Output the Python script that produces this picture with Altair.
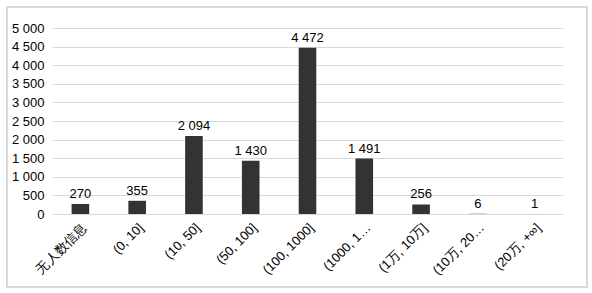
import altair as alt
import pandas as pd

categories = ["无人数信息", "(0, 10]", "(10, 50]", "(50, 100]", "(100, 1000]",
              "(1000, 1…", "(1万, 10万]", "(10万, 20…", "(20万, +∞]"]
values = [270, 355, 2094, 1430, 4472, 1491, 256, 6, 1]

df = pd.DataFrame({"cat": categories, "val": values})
df["lbl"] = [f"{v:,}".replace(",", " ") for v in values]

FONT = "Liberation Sans"
W, H = 511, 186

x = alt.X("cat:N", sort=categories, title=None,
          scale=alt.Scale(paddingInner=0.69, paddingOuter=0.345),
          axis=alt.Axis(labelAngle=-45, labelFontSize=13, labelColor="#000000",
                        labelFont=FONT, ticks=False, domain=False, grid=False,
                        labelPadding=7, labelLimit=120))
y = alt.Y("val:Q", title=None,
          scale=alt.Scale(domain=[0, 5000], nice=False),
          axis=alt.Axis(values=list(range(0, 5001, 500)), labelFontSize=13,
                        labelColor="#000000", labelFont=FONT, ticks=False,
                        domain=False, gridColor="#d9d9d9", gridWidth=1,
                        labelPadding=8,
                        labelExpr="replace(format(datum.value, ','), ',', ' ')"))

base = alt.Chart(df).encode(x=x, y=y)
bars = base.mark_bar(color="#333333")
text = base.mark_text(dy=-10, fontSize=13, font=FONT, color="#000000").encode(text="lbl:N")

border = alt.Chart(df).mark_rect(fill=None, stroke="#d9d9d9", strokeWidth=1.2,
                                 clip=False).encode(
    x=alt.value(-45), x2=alt.value(535), y=alt.value(-21), y2=alt.value(259))

chart = alt.layer(bars, text, border).properties(
    width=W, height=H,
    padding={"left": 52, "top": 28, "right": 29, "bottom": 79},
    autosize=alt.AutoSizeParams(type="none"),
).configure_view(stroke=None)

chart.save("out.html", embed_options={"renderer": "svg", "actions": False})
